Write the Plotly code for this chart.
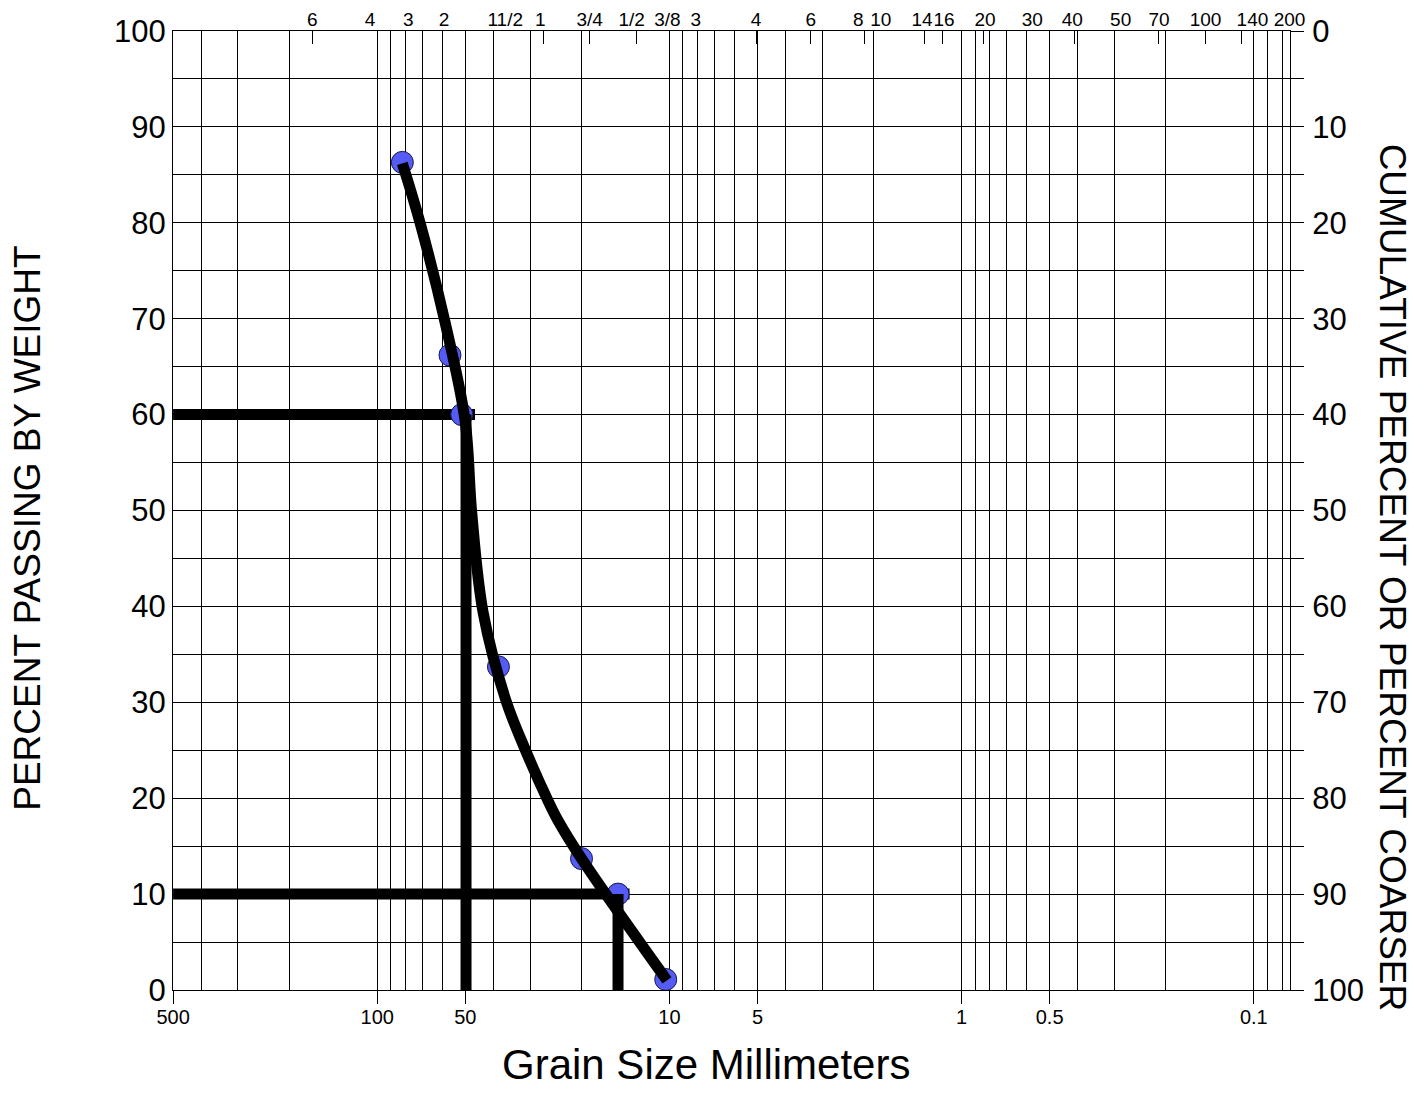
import math
import plotly.graph_objects as go

# ---------------- data ----------------
# sieve-analysis sample points
grain_mm = [82.1, 56.4, 51.4, 38.5, 20.0, 15.0, 10.3]
pct_passing = [86.3, 66.2, 60.0, 33.7, 13.7, 10.0, 1.1]

# hand-fitted gradation curve
curve_mm = [82.1, 71.4, 58.6, 50.1, 47.5, 43.4, 36.3, 31.1, 26.2, 24.1, 20.0, 10.2]
curve_pct = [86.2, 80.0, 69.6, 59.4, 49.7, 39.3, 30.2, 25.0, 19.9, 17.7, 13.7, 1.0]

d60_mm = 49.7          # vertical D60 marker line
d60_h_end = 46.3       # where the 60 % horizontal bar stops
d10_mm = 15.0          # vertical D10 marker line
d10_h_end = 13.7       # where the 10 % horizontal bar stops
x_max_mm = 500
x_min_mm = 0.0752

bottom_tick_vals = [500, 100, 50, 10, 5, 1, 0.5, 0.1]
bottom_tick_text = ["500", "100", "50", "10", "5", "1", "0.5", "0.1"]

grid_vals = [400, 300, 200, 90, 80, 70, 60, 40, 30, 20,
             9, 8, 7, 6, 4, 3, 2,
             0.9, 0.8, 0.7, 0.6, 0.4, 0.3, 0.2, 0.09, 0.08]

top_label_text = ["6", "4", "3", "2", "11/2", "1", "3/4", "1/2", "3/8", "3",
                  "4", "6", "8", "10", "14", "16", "20", "30", "40", "50",
                  "70", "100", "140", "200"]
top_label_vals = [166.9, 105.9, 78.3, 59.1, 36.5, 27.7, 18.75, 13.47, 10.17, 8.13,
                  5.055, 3.286, 2.258, 1.892, 1.367, 1.149, 0.832, 0.573, 0.418, 0.2856,
                  0.2112, 0.1464, 0.1011, 0.0755]
top_tick_vals = [166.9, 27.0, 18.85, 12.95, 5.055, 3.304, 2.159, 1.342, 1.165,
                 0.843, 0.4125, 0.2123, 0.1458, 0.1101]

pct_ticks = [0, 10, 20, 30, 40, 50, 60, 70, 80, 90, 100]

# ---------------- figure ----------------
FONT = "Liberation Sans, Arial, Helvetica, sans-serif"
BLUE = "rgb(84,92,245)"
xr = [math.log10(x_max_mm) + 0.0003, math.log10(x_min_mm)]

fig = go.Figure()

# horizontal D60 / D10 bars (under the markers)
fig.add_trace(go.Scatter(x=[x_max_mm, d60_h_end], y=[60, 60], mode="lines",
                         line=dict(color="black", width=11), showlegend=False, hoverinfo="skip"))
fig.add_trace(go.Scatter(x=[x_max_mm, d10_h_end], y=[10, 10], mode="lines",
                         line=dict(color="black", width=11), showlegend=False, hoverinfo="skip"))
# sample points
fig.add_trace(go.Scatter(x=grain_mm, y=pct_passing, mode="markers",
                         marker=dict(size=22, color=BLUE, line=dict(color="#1a1a50", width=1)),
                         showlegend=False))
# smooth gradation curve
fig.add_trace(go.Scatter(x=curve_mm, y=curve_pct, mode="lines",
                         line=dict(color="black", width=11, shape="spline", smoothing=1.0),
                         showlegend=False, hoverinfo="skip"))
# vertical D60 / D10 lines
fig.add_trace(go.Scatter(x=[d60_mm, d60_mm], y=[60, 0], mode="lines",
                         line=dict(color="black", width=11), showlegend=False, hoverinfo="skip"))
fig.add_trace(go.Scatter(x=[d10_mm, d10_mm], y=[10, 0], mode="lines",
                         line=dict(color="black", width=11), showlegend=False, hoverinfo="skip"))

# dummy traces to register the extra axes
fig.add_trace(go.Scatter(x=[None], y=[None], xaxis="x", yaxis="y2", showlegend=False, hoverinfo="skip"))
fig.add_trace(go.Scatter(x=[None], y=[None], xaxis="x2", yaxis="y", showlegend=False, hoverinfo="skip"))
fig.add_trace(go.Scatter(x=[None], y=[None], xaxis="x3", yaxis="y", showlegend=False, hoverinfo="skip"))

fig.update_layout(
    width=1406, height=1083,
    margin=dict(l=165, r=124, t=23, b=101, autoexpand=False),
    paper_bgcolor="white", plot_bgcolor="white",
    font=dict(family=FONT, color="black"),
    showlegend=False,
    xaxis=dict(
        type="log", range=xr, autorange=False,
        tickmode="array", tickvals=bottom_tick_vals, ticktext=bottom_tick_text,
        ticks="outside", ticklen=13, tickwidth=1.3, tickcolor="black",
        ticklabelstandoff=-4, tickangle=0,
        tickfont=dict(size=20, family=FONT, color="black"),
        showgrid=True, gridcolor="black", gridwidth=1.3,
        minor=dict(tickmode="array", tickvals=grid_vals, showgrid=True,
                   gridcolor="black", gridwidth=1.3, ticks=""),
        showline=True, linecolor="black", linewidth=1.3, mirror=True,
        zeroline=False,
    ),
    xaxis2=dict(
        type="log", range=xr, autorange=False, overlaying="x", side="top", anchor="y",
        tickmode="array", tickvals=top_label_vals, ticktext=top_label_text,
        ticks="", tickangle=0, showgrid=False, showline=False, zeroline=False,
        tickfont=dict(size=19, family=FONT, color="black"),
    ),
    xaxis3=dict(
        type="log", range=xr, autorange=False, overlaying="x", side="top", anchor="y",
        tickmode="array", tickvals=top_tick_vals,
        ticks="inside", ticklen=13, tickwidth=1.3, tickcolor="black",
        showticklabels=False, showgrid=False, showline=False, zeroline=False,
    ),
    yaxis=dict(
        range=[0, 100], autorange=False,
        tickmode="array", tickvals=pct_ticks,
        ticks="", ticklabelstandoff=0,
        tickfont=dict(size=31, family=FONT, color="black"),
        showgrid=True, gridcolor="black", gridwidth=1.3,
        minor=dict(dtick=5, showgrid=True, gridcolor="black", gridwidth=1.3, ticks=""),
        showline=True, linecolor="black", linewidth=1.3, mirror=True,
        zeroline=False,
    ),
    yaxis2=dict(
        range=[100, 0], autorange=False, overlaying="y", side="right", anchor="x",
        tickmode="array", tickvals=pct_ticks,
        ticks="outside", ticklen=13, tickwidth=1.3, tickcolor="black",
        minor=dict(dtick=5, ticks="outside", ticklen=13, tickwidth=1.3, tickcolor="black",
                   showgrid=False),
        ticklabelstandoff=2,
        tickfont=dict(size=31, family=FONT, color="black"),
        showgrid=False, showline=False, zeroline=False,
    ),
    annotations=[
        dict(text="PERCENT PASSING BY WEIGHT", xref="paper", yref="paper",
             x=-0.1298, y=0.481, xanchor="center", yanchor="middle", textangle=-90,
             showarrow=False, font=dict(size=37, family=FONT, color="black")),
        dict(text="CUMULATIVE PERCENT OR PERCENT COARSER", xref="paper", yref="paper",
             x=1.0913, y=0.430, xanchor="center", yanchor="middle", textangle=90,
             showarrow=False, font=dict(size=37, family=FONT, color="black")),
        dict(text="Grain Size Millimeters", xref="paper", yref="paper",
             x=0.4772, y=-0.1043, xanchor="center", yanchor="bottom",
             showarrow=False, font=dict(size=42, family=FONT, color="black")),
    ],
)

fig.write_html("out.html")
